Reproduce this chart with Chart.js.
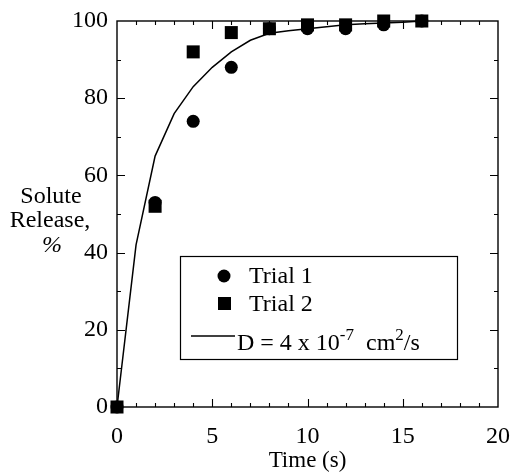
<!DOCTYPE html>
<html>
<head>
<meta charset="utf-8">
<script src="https://cdn.jsdelivr.net/npm/chart.js@4"></script>
<style>
  html, body { margin: 0; padding: 0; background: #fff; }
</style>
</head>
<body>
<canvas id="chart-release" width="514" height="473"></canvas>
<script>
// ── Data ─────────────────────────────────
const trialTimes = [0, 2, 4, 6, 8, 10, 12, 14, 16];
const trial1     = [0, 53, 74, 88, 98, 98, 98, 99, 100];
const trial2     = [0, 52, 92, 97, 98, 99, 99, 100, 100];

const modelTimes = [0, 1, 2, 3, 4, 5, 6, 7, 8, 9, 10, 11, 12, 13, 14, 15, 16];
const modelVals  = [0, 42, 65, 76, 83, 88, 92, 95, 96.8, 97.5, 98, 98.5, 99, 99.3, 99.5, 99.7, 100];

const xTickLabels = [0, 5, 10, 15, 20];
const yTickLabels = [0, 20, 40, 60, 80, 100];

const legendLabels = ['Trial 1', 'Trial 2'];
const yTitleLines  = ['Solute', 'Release,', '%'];

const SERIF = '"Liberation Serif", "Times New Roman", serif';

const pts = (xs, ys) => xs.map((x, i) => ({ x, y: ys[i] }));

// ── Inward ticks + frame, legend and y title ──
const framePlugin = {
  id: 'frame',
  afterDraw(chart) {
    const { ctx, chartArea: a, scales: { x, y } } = chart;
    ctx.save();
    ctx.strokeStyle = '#000';
    ctx.lineWidth = 1.4;
    ctx.strokeRect(a.left, a.top, a.right - a.left, a.bottom - a.top);

    ctx.lineWidth = 1.1;
    ctx.beginPath();
    for (let v = 1; v < 20; v++) {
      const px = Math.round(x.getPixelForValue(v)) + 0.5;
      const len = v % 5 === 0 ? 8 : 4;
      ctx.moveTo(px, a.bottom); ctx.lineTo(px, a.bottom - len);
      ctx.moveTo(px, a.top);    ctx.lineTo(px, a.top + len);
    }
    for (let v = 10; v < 100; v += 10) {
      const py = Math.round(y.getPixelForValue(v)) + 0.5;
      const len = v % 20 === 0 ? 8 : 4;
      ctx.moveTo(a.left, py);  ctx.lineTo(a.left + len, py);
      ctx.moveTo(a.right, py); ctx.lineTo(a.right - len, py);
    }
    ctx.stroke();

    // y title, horizontal, three lines
    ctx.fillStyle = '#000';
    ctx.font = '24px ' + SERIF;
    ctx.textAlign = 'center';
    ctx.textBaseline = 'alphabetic';
    ctx.fillText(yTitleLines[0], 51, 203);
    ctx.fillText(yTitleLines[1], 50, 227);
    ctx.font = 'italic 24px ' + SERIF;
    ctx.fillText(yTitleLines[2], 52, 252);

    // legend box
    const bx = 180, by = 256, bw = 277, bh = 103;
    ctx.fillStyle = '#fff';
    ctx.fillRect(bx, by, bw, bh);
    ctx.lineWidth = 1.2;
    ctx.strokeRect(bx + 0.5, by + 0.5, bw, bh);

    ctx.fillStyle = '#000';
    ctx.beginPath();
    ctx.arc(224, 276, 6.5, 0, Math.PI * 2);
    ctx.fill();
    ctx.fillRect(218, 297, 13, 13);

    ctx.lineWidth = 1.5;
    ctx.beginPath();
    ctx.moveTo(191, 336); ctx.lineTo(235, 336);
    ctx.stroke();

    ctx.textAlign = 'left';
    ctx.font = '24px ' + SERIF;
    ctx.fillText(legendLabels[0], 249, 283);
    ctx.fillText(legendLabels[1], 249, 311);

    // D = 4 x 10^-7 cm^2/s
    let tx = 237;
    const base = 350;
    const parts = [
      ['D = 4 x 10', false], ['-7', true], ['  cm', false], ['2', true], ['/s', false],
    ];
    parts.forEach(([t, sup]) => {
      ctx.font = (sup ? '17px ' : '24px ') + SERIF;
      ctx.fillText(t, tx, sup ? base - 10 : base);
      tx += ctx.measureText(t).width;
    });
    ctx.restore();
  },
};

new Chart(document.getElementById('chart-release'), {
  type: 'scatter',
  data: {
    datasets: [
      {
        label: legendLabels[1],
        data: pts(trialTimes, trial2),
        backgroundColor: '#000',
        borderColor: '#000',
        pointStyle: 'rect',
        pointRadius: 9.2,
        borderWidth: 0,
      },
      {
        label: legendLabels[0],
        data: pts(trialTimes, trial1),
        backgroundColor: '#000',
        borderColor: '#000',
        pointStyle: 'circle',
        pointRadius: 6.5,
        borderWidth: 0,
      },
      {
        label: 'D = 4 x 10-7 cm2/s',
        type: 'line',
        data: pts(modelTimes, modelVals),
        borderColor: '#000',
        borderWidth: 1.5,
        pointRadius: 0,
        tension: 0,
        fill: false,
      },
    ],
  },
  options: {
    responsive: false,
    animation: false,
    clip: false,
    layout: { padding: { top: 21, right: 16, left: 0, bottom: 0 } },
    plugins: { legend: { display: false }, tooltip: { enabled: false } },
    scales: {
      x: {
        type: 'linear', min: 0, max: 20,
        grid: { display: false, drawTicks: false },
        border: { display: false },
        afterBuildTicks: s => { s.ticks = xTickLabels.map(v => ({ value: v })); },
        afterFit: s => { s.height = 66; s.paddingLeft = 0; s.paddingRight = 0; },
        ticks: { color: '#000', padding: 15, maxRotation: 0, font: { family: SERIF, size: 24 } },
        title: { display: true, text: 'Time (s)', color: '#000', padding: { top: 0, bottom: -2 }, font: { family: SERIF, size: 23 } },
      },
      y: {
        type: 'linear', min: 0, max: 100,
        grid: { display: false, drawTicks: false },
        border: { display: false },
        afterBuildTicks: s => { s.ticks = yTickLabels.map(v => ({ value: v })); },
        afterFit: s => { s.width = 117; s.paddingTop = 0; s.paddingBottom = 0; },
        ticks: { color: '#000', padding: 9, font: { family: SERIF, size: 24 } },
      },
    },
  },
  plugins: [framePlugin],
});
</script>
</body>
</html>
